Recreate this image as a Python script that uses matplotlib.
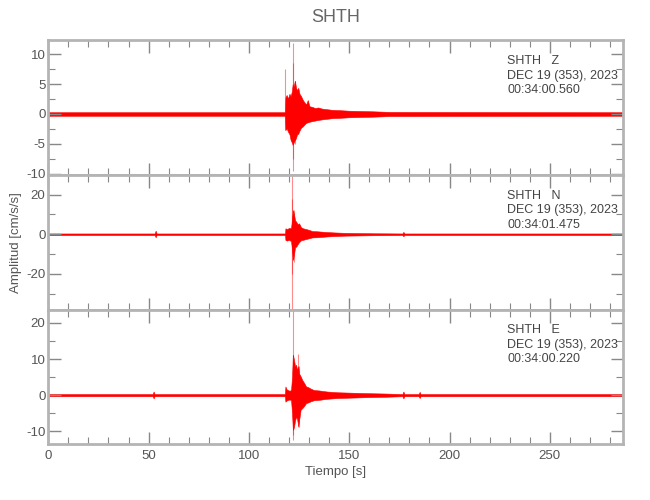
import numpy as np
import matplotlib
matplotlib.use('Agg')
import matplotlib.pyplot as plt
import matplotlib.ticker as ticker

plt.rcParams['font.family'] = ['Liberation Sans', 'DejaVu Sans']
plt.rcParams['axes.unicode_minus'] = False

station = 'SHTH'
date_line = 'DEC 19 (353), 2023'

# Z component: envelope knots (s, cm/s/s)
t_z = [0, 118.0, 118.2, 118.8, 119.5, 120.2, 120.8, 121.4, 121.8, 122.3, 122.9, 123.5,
       124.0, 124.6, 125.2, 126.0, 126.8, 127.6, 128.5, 129.3, 130.2, 131.5, 133.0,
       134.5, 136.5, 139.0, 141.5, 145.0, 150.0, 156.0, 162.0, 170.0, 287]
up_z = [0.3, 0.3, 2.8, 3.2, 2.6, 3.4, 3.0, 3.8, 5.0, 4.6, 5.6, 4.4,
        4.0, 4.4, 3.4, 3.0, 2.4, 2.0, 1.6, 2.3, 1.3, 1.2, 1.0,
        1.1, 0.9, 0.8, 0.7, 0.65, 0.55, 0.5, 0.45, 0.35, 0.3]
lo_z = [-0.3, -0.3, -2.7, -2.4, -3.0, -3.4, -4.4, -4.8, -5.2, -4.8, -4.4, -4.0,
        -3.4, -3.3, -2.8, -2.3, -2.1, -1.8, -1.5, -1.4, -1.3, -1.2, -1.1,
        -1.0, -0.9, -0.8, -0.7, -0.65, -0.55, -0.5, -0.45, -0.35, -0.3]
spk_t_z = [118.2, 121.8, 122.1, 122.9, 124.6, 129.3]
spk_hi_z = [7.5, 11.9, 8.5, 5.6, 4.0, 2.4]
spk_lo_z = [-2.7, -9.5, -7.5, -5.0, -3.3, -1.3]

# N component
t_n = [0, 53.0, 53.5, 54.0, 118.0, 118.2, 119.0, 120.0, 121.0, 121.5, 122.0, 122.5,
       123.0, 123.6, 124.3, 125.0, 126.0, 127.0, 128.5, 130.0, 131.5, 134.0, 136.5,
       139.0, 143.0, 148.0, 155.0, 162.0, 170.0, 176.5, 177.0, 177.5, 287]
up_n = [0.4, 0.4, 1.8, 0.4, 0.4, 3.0, 2.6, 3.2, 3.0, 8.0, 12.2, 10.0,
        7.0, 6.3, 5.0, 5.5, 3.5, 3.0, 2.6, 2.2, 1.6, 1.5, 1.3,
        1.1, 0.9, 0.7, 0.6, 0.5, 0.45, 0.4, 1.2, 0.4, 0.4]
lo_n = [-0.4, -0.4, -1.5, -0.4, -0.4, -2.9, -3.2, -2.8, -3.5, -8.0, -13.0, -10.0,
        -6.5, -6.2, -5.0, -4.0, -3.0, -2.8, -2.4, -2.0, -1.6, -1.5, -1.3,
        -1.1, -0.9, -0.7, -0.6, -0.5, -0.45, -0.4, -1.0, -0.4, -0.4]
spk_t_n = [121.5, 121.7, 122.3]
spk_hi_n = [18.0, 31.0, 12.0]
spk_lo_n = [-20.0, -40.0, -14.0]

# E component
t_e = [0, 52.0, 52.5, 53.0, 117.9, 118.2, 118.8, 119.5, 120.3, 121.0, 121.5, 121.9,
       122.4, 123.0, 123.5, 124.0, 124.6, 125.0, 125.8, 126.6, 127.5, 128.5, 129.6,
       130.8, 132.5, 135.0, 137.5, 139.0, 144.0, 150.0, 159.0, 168.0, 176.5, 177.0,
       177.5, 184.6, 185.1, 185.6, 287]
up_e = [0.3, 0.3, 1.0, 0.3, 0.3, 2.4, 1.6, 1.4, 1.2, 1.5, 5.0, 11.2,
        10.0, 8.0, 8.4, 7.0, 8.0, 6.0, 5.2, 4.2, 3.4, 2.4, 2.2,
        1.8, 1.4, 1.3, 1.1, 1.0, 0.8, 0.7, 0.55, 0.45, 0.3, 1.0,
        0.3, 0.3, 0.9, 0.3, 0.3]
lo_e = [-0.3, -0.3, -0.9, -0.3, -0.3, -1.8, -1.5, -1.3, -1.2, -1.4, -5.0, -9.6,
        -9.0, -7.0, -6.0, -6.5, -8.7, -7.0, -4.0, -3.6, -3.0, -2.2, -2.0,
        -1.7, -1.4, -1.3, -1.1, -1.0, -0.8, -0.7, -0.55, -0.45, -0.3, -0.9,
        -0.3, -0.3, -0.8, -0.3, -0.3]
spk_t_e = [121.8, 122.2, 124.3, 125.0]
spk_hi_e = [30.0, 11.0, 11.5, 8.0]
spk_lo_e = [-12.4, -11.0, -5.0, -8.7]

panels = [
    ('Z', '00:34:00.560', t_z, up_z, lo_z, spk_t_z, spk_hi_z, spk_lo_z, (-10.25, 12.4), 5, 2.5),
    ('N', '00:34:01.475', t_n, up_n, lo_n, spk_t_n, spk_hi_n, spk_lo_n, (-37.9, 30.0), 20, 10),
    ('E', '00:34:00.220', t_e, up_e, lo_e, spk_t_e, spk_hi_e, spk_lo_e, (-13.6, 23.7), 10, 5),
]

spine_col = '#b4b4b4'
text_col = '#555555'

fig = plt.figure(figsize=(6.5, 5), dpi=100)
left, width, height = 0.0743, 0.8846, 0.2696
bottoms = [0.65, 0.381, 0.1114]

for i, (comp, tstr, t, up, lo, st, sh, sl, ylim, maj, mnr) in enumerate(panels):
    ax = fig.add_axes([left, bottoms[i], width, height])
    ax.fill_between(t, lo, up, color='red', lw=0.4)
    ax.vlines(st, sl, sh, color='red', lw=0.8, alpha=0.45)
    ax.set_xlim(0, 286.6)
    ax.set_ylim(*ylim)
    ax.xaxis.set_major_locator(ticker.MultipleLocator(50))
    ax.xaxis.set_minor_locator(ticker.MultipleLocator(10))
    ax.yaxis.set_major_locator(ticker.MultipleLocator(maj))
    ax.yaxis.set_minor_locator(ticker.MultipleLocator(mnr))
    ax.tick_params(which='both', direction='in', top=True, right=True,
                   color='#888888', labelcolor=text_col, labelsize=9.5)
    ax.tick_params(which='major', length=9, width=1.0, pad=2)
    ax.tick_params(which='minor', length=5, width=0.8)
    ax.tick_params(axis='x', which='major', pad=4)
    if i < 2:
        ax.tick_params(labelbottom=False)
    for s in ax.spines.values():
        s.set_color(spine_col)
        s.set_linewidth(2)
    ax.text(0.798, 0.845, station + '   ' + comp, transform=ax.transAxes,
            fontsize=9, color='#444444', va='center')
    ax.text(0.798, 0.737, date_line, transform=ax.transAxes,
            fontsize=9, color='#444444', va='center')
    ax.text(0.798, 0.63, tstr, transform=ax.transAxes,
            fontsize=9, color='#444444', va='center')
    if i == 2:
        ax.set_xlabel('Tiempo [s]', color=text_col, fontsize=9.5, labelpad=3)
    if i == 1:
        ax.set_ylabel('Amplitud [cm/s/s]', color=text_col, fontsize=9.5)
        ax.yaxis.set_label_coords(-0.046, 0.5)

fig.text(0.517, 0.965, station, ha='center', va='center', fontsize=13, color='#666666')

plt.savefig('out.png', dpi=100)
